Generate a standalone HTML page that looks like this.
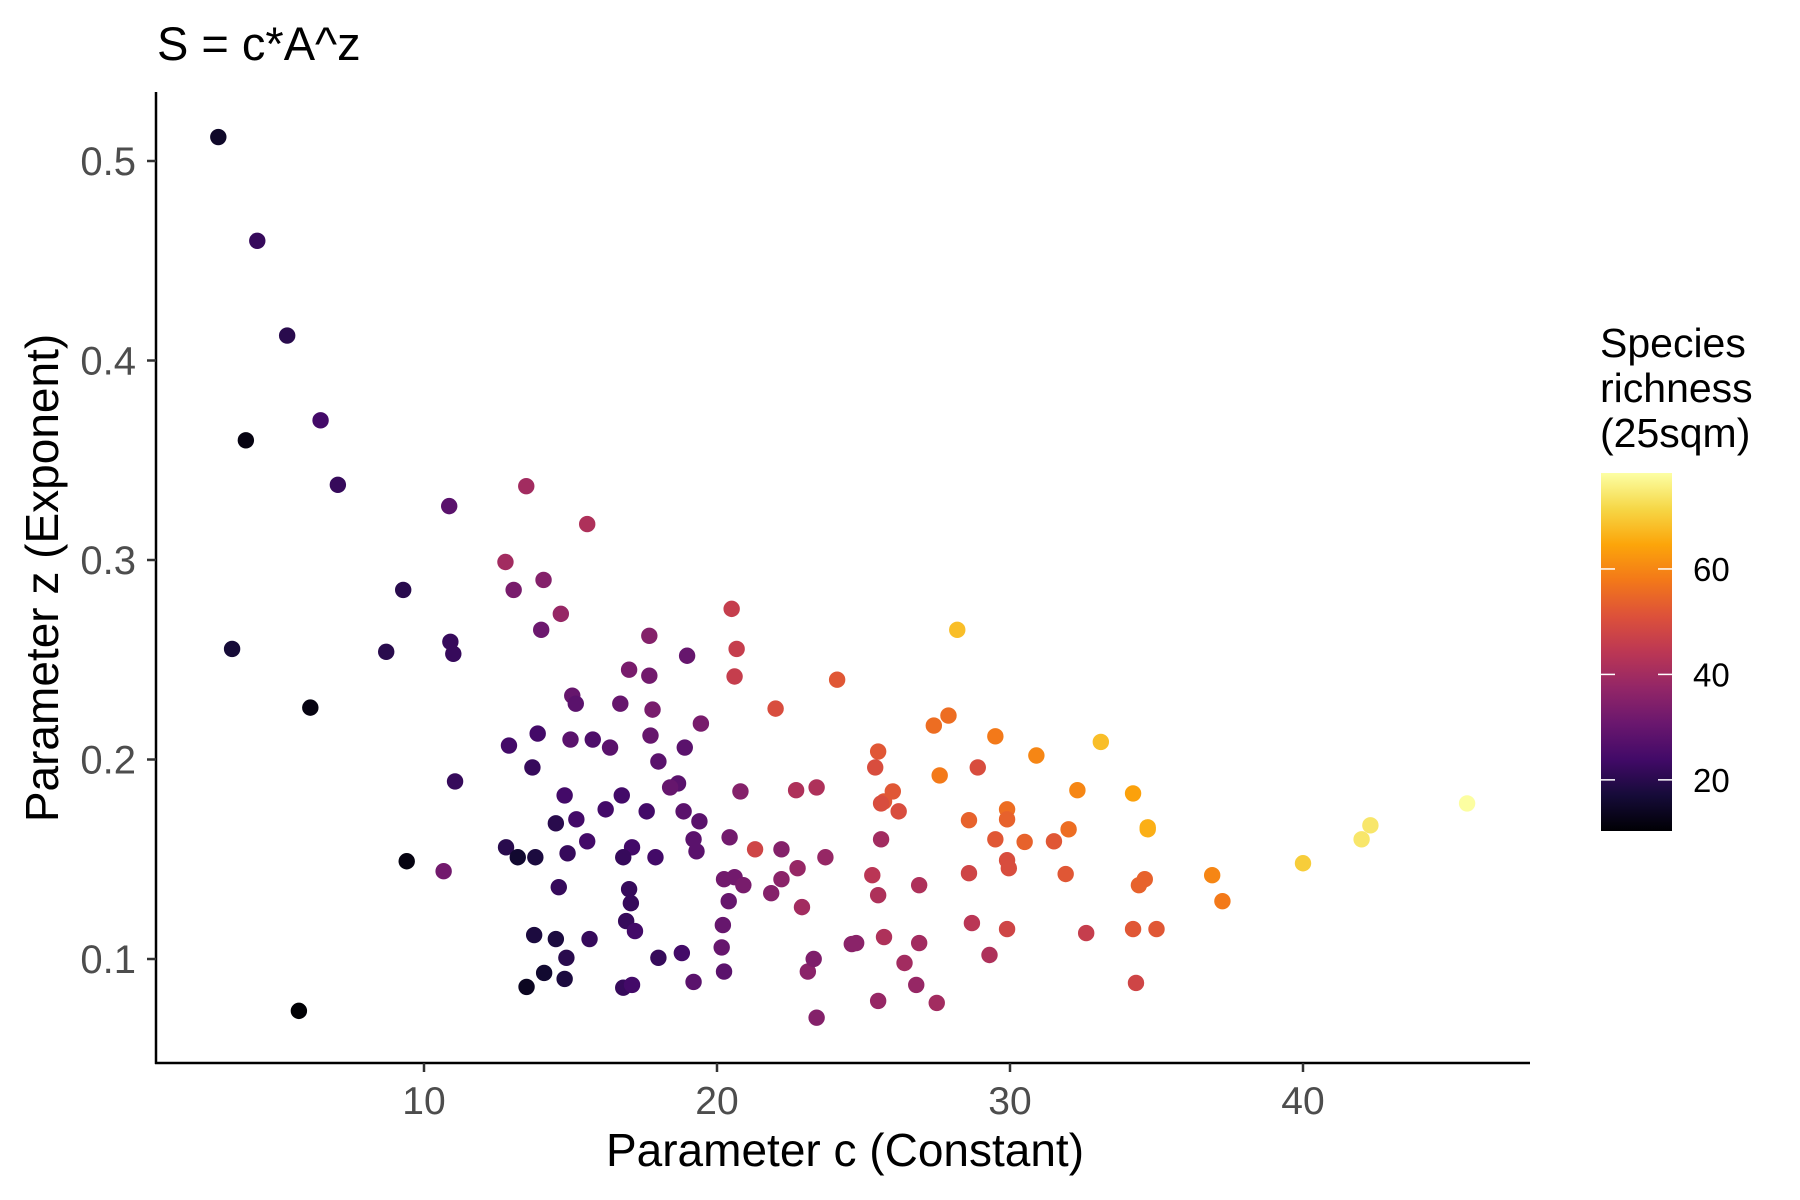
<!DOCTYPE html>
<html><head><meta charset="utf-8">
<style>
html,body{margin:0;padding:0;background:#fff;}
svg{display:block;font-family:"Liberation Sans",Arial,sans-serif;}
</style></head>
<body>
<svg id="chart" width="1800" height="1200" viewBox="0 0 1800 1200">
<defs>
<linearGradient id="inf" x1="0" y1="1" x2="0" y2="0">
<stop offset="0" stop-color="#000004"/><stop offset="0.1" stop-color="#160b39"/><stop offset="0.2" stop-color="#420a68"/><stop offset="0.3" stop-color="#6a176e"/><stop offset="0.4" stop-color="#932667"/><stop offset="0.5" stop-color="#bc3754"/><stop offset="0.6" stop-color="#dd513a"/><stop offset="0.7" stop-color="#f37819"/><stop offset="0.8" stop-color="#fca50a"/><stop offset="0.9" stop-color="#f6d746"/><stop offset="1" stop-color="#fcffa4"/>
</linearGradient>
</defs>
<text x="157" y="60" font-size="47" fill="#000">S = c*A^z</text>
<g id="points"></g>
<line x1="156" y1="92" x2="156" y2="1064" stroke="#000" stroke-width="2.5"/>
<line x1="155" y1="1063" x2="1530" y2="1063" stroke="#000" stroke-width="2.5"/>
<g id="xticks"></g>
<g id="yticks"></g>
<text x="845" y="1166" font-size="46" text-anchor="middle" fill="#000">Parameter c (Constant)</text>
<text transform="translate(58,578) rotate(-90)" font-size="46" text-anchor="middle" fill="#000">Parameter z (Exponent)</text>
<g>
<text x="1600" y="357" font-size="41" fill="#000">Species</text>
<text x="1600" y="402" font-size="41" fill="#000">richness</text>
<text x="1600" y="447" font-size="41" fill="#000">(25sqm)</text>
<rect x="1601" y="473" width="71" height="358" fill="url(#inf)"/>
<g id="cticks"></g>
</g>
</svg>
<script>
const cVals=[2.98,4.31,5.33,3.92,6.47,7.06,3.45,6.12,5.73,9.29,8.71,10.86,10.9,11.0,11.06,9.41,10.67,13.49,15.57,12.78,13.06,14.08,14.67,14.0,12.9,13.88,13.7,12.8,13.2,13.8,15.06,15.18,15.0,15.76,16.35,14.8,15.2,14.5,14.9,15.57,14.6,13.76,14.5,14.86,14.1,13.5,14.8,15.65,17.69,17.0,17.69,18.98,16.7,17.8,17.73,19.45,18.9,18.0,18.67,18.4,16.2,16.75,17.6,18.86,19.4,19.2,19.3,17.1,17.9,16.8,17.0,17.06,16.9,17.2,18.0,18.8,16.8,17.1,19.2,20.5,20.67,20.6,20.8,20.43,20.24,20.6,20.9,20.4,20.2,20.16,20.24,21.3,22.0,21.85,22.2,22.2,22.7,23.4,22.75,22.9,23.1,23.3,23.4,23.7,24.1,24.6,24.75,25.5,25.4,25.7,25.6,26.0,26.2,25.6,25.3,25.5,25.7,25.5,26.4,26.9,26.9,26.8,27.5,28.2,27.4,27.9,27.6,28.6,28.6,28.9,28.7,29.3,29.5,29.5,29.9,29.9,29.9,29.96,29.9,30.5,30.9,31.5,32.0,31.9,32.6,32.3,33.1,34.2,34.7,34.7,34.6,34.4,34.2,35.0,34.3,36.9,37.25,40.0,42.0,42.3,45.6];
const zVals=[0.512,0.460,0.4125,0.360,0.370,0.3377,0.2554,0.226,0.074,0.285,0.254,0.327,0.259,0.253,0.189,0.149,0.144,0.337,0.318,0.299,0.285,0.290,0.273,0.265,0.207,0.213,0.196,0.156,0.151,0.151,0.232,0.228,0.210,0.210,0.206,0.182,0.170,0.168,0.153,0.159,0.136,0.112,0.110,0.1006,0.093,0.086,0.090,0.110,0.262,0.245,0.242,0.252,0.228,0.225,0.212,0.218,0.206,0.199,0.188,0.186,0.175,0.182,0.174,0.174,0.169,0.160,0.154,0.156,0.151,0.151,0.135,0.128,0.119,0.114,0.1006,0.103,0.0856,0.087,0.0885,0.2755,0.2554,0.2416,0.184,0.161,0.140,0.141,0.137,0.129,0.117,0.1058,0.0937,0.155,0.2255,0.133,0.155,0.140,0.1846,0.186,0.1455,0.126,0.0937,0.100,0.0706,0.151,0.240,0.1075,0.108,0.204,0.196,0.179,0.178,0.184,0.174,0.160,0.142,0.132,0.111,0.079,0.098,0.137,0.108,0.087,0.078,0.265,0.217,0.222,0.192,0.1696,0.143,0.196,0.118,0.102,0.2116,0.160,0.175,0.170,0.1495,0.1455,0.115,0.1587,0.202,0.159,0.165,0.1426,0.113,0.1846,0.2088,0.183,0.166,0.165,0.140,0.137,0.115,0.115,0.088,0.142,0.129,0.148,0.160,0.167,0.178];
const richVals=[15,22,20,12,24,22,17,12,10,20,20,28,22,22,22,12,32,40,42,40,33,35,38,31,24,24,22,20,16,18,30,28,28,26,28,24,24,20,22,24,22,18,18,20,16,14,18,22,35,33,32,30,30,33,30,33,28,28,28,30,24,24,24,28,28,28,28,24,24,22,22,22,22,24,22,24,22,24,28,46,46,46,35,32,32,32,33,30,30,30,28,48,50,35,35,36,42,42,38,40,36,34,35,38,52,36,36,52,50,52,50,52,50,40,44,42,42,38,40,42,40,38,40,68,56,56,58,54,48,50,44,42,58,52,56,54,50,50,48,54,60,52,56,52,46,60,68,64,66,66,54,54,52,52,48,60,58,70,74,74,78];
const xTicks=[10,20,30,40];
const yTicks=[0.1,0.2,0.3,0.4,0.5];
const cbTicks=[20,40,60];
const rMin=10.3,rMax=78.2;
const NS="http://www.w3.org/2000/svg";
function xS(v){return 424+(v-10)*29.3;}
function yS(v){return 959-(v-0.1)*1995;}
function cbY(v){return 831-(v-rMin)/(rMax-rMin)*358;}
const stops=["#000004","#160b39","#420a68","#6a176e","#932667","#bc3754","#dd513a","#f37819","#fca50a","#f6d746","#fcffa4"];
function hex(h){return [parseInt(h.substr(1,2),16),parseInt(h.substr(3,2),16),parseInt(h.substr(5,2),16)];}
function colr(v){let t=Math.max(0,Math.min(1,(v-rMin)/(rMax-rMin)))*10;let i=Math.min(9,Math.floor(t));let f=t-i;const a=hex(stops[i]),b=hex(stops[i+1]);return "rgb("+a.map((x,k)=>Math.round(x+(b[k]-x)*f)).join(",")+")";}
function mk(tag,attrs,parent){const e=document.createElementNS(NS,tag);for(const k in attrs)e.setAttribute(k,attrs[k]);parent.appendChild(e);return e;}
const pg=document.getElementById("points");
for(let i=0;i<cVals.length;i++){
  const c=mk("circle",{cx:xS(cVals[i]),cy:yS(zVals[i]),r:8.2,fill:colr(richVals[i])},pg);
  
  
}
const xg=document.getElementById("xticks");
xTicks.forEach(v=>{
  const l=mk("line",{x1:xS(v),x2:xS(v),y1:1063,y2:1072,stroke:"#333","stroke-width":2.5},xg);
  
  
  const t=mk("text",{x:xS(v),y:1114,"font-size":39,fill:"#4d4d4d","text-anchor":"middle"},xg);
  t.textContent=v;
  
  
});
const yg=document.getElementById("yticks");
yTicks.forEach(v=>{
  const l=mk("line",{x1:147,x2:156,y1:yS(v),y2:yS(v),stroke:"#333","stroke-width":2.5},yg);
  
  
  const t=mk("text",{x:136,y:yS(v)+14,"font-size":40,fill:"#4d4d4d","text-anchor":"end"},yg);
  t.textContent=v.toFixed(1);
  
  
});
const cg=document.getElementById("cticks");
cbTicks.forEach(v=>{
  const y=cbY(v);
  mk("line",{x1:1601,x2:1615,y1:y,y2:y,stroke:"#fff","stroke-width":1.5},cg);
  mk("line",{x1:1658,x2:1672,y1:y,y2:y,stroke:"#fff","stroke-width":1.5},cg);
  const t=mk("text",{x:1693,y:y+12,"font-size":33,fill:"#000"},cg);
  t.textContent=v;
  
  
});
</script>
</body></html>
